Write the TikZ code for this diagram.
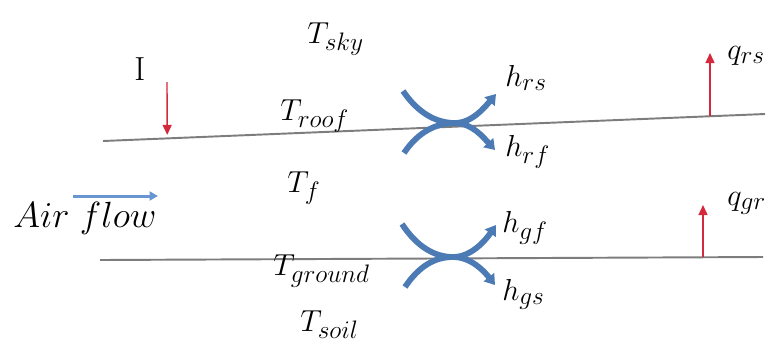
\documentclass[tikz,border=0pt]{standalone}
\usetikzlibrary{arrows.meta,calc}

\definecolor{heatred}{RGB}{214,40,60}
\definecolor{flowblue}{RGB}{104,150,208}
\definecolor{convblue}{RGB}{76,122,180}
\definecolor{surfgray}{RGB}{125,125,125}

\begin{document}
\begin{tikzpicture}[x=0.02cm, y=-0.02cm,
  lbl/.style={anchor=base west, inner sep=0pt, font=\fontsize{19}{23}\selectfont},
  surf/.style={surfgray, line width=1.1pt},
  flux/.style={heatred, line width=0.8pt, -{Triangle[length=2mm,width=1.8mm]}},
  conv/.style={convblue, line width=3.3pt, -{Triangle[length=2mm,width=2.6mm]}},
  airarrow/.style={flowblue, line width=1.7pt, -{Triangle[length=1.7mm,width=1.8mm]}}]
  \useasboundingbox[fill=white] (0,0) rectangle (777,343);
  \clip (0,0) rectangle (777,343);

  % surfaces
  \coordinate (roofL) at (103,141);
  \coordinate (roofR) at (765,114);
  \coordinate (grndL) at (100,260);
  \coordinate (grndR) at (763,257);
  \draw[surf] (roofL) -- (roofR);
  \draw[surf] (grndL) -- (grndR);

  % temperatures
  \node[lbl] (sky)    at (307,43)  {$T_{sky}$};
  \node[lbl] (roof)   at (280,120) {$T_{roof}$};
  \node[lbl] (fluid)  at (287,192) {$T_f$};
  \node[lbl] (ground) at (273,275) {$T_{ground}$};
  \node[lbl] (soil)   at (300,331) {$T_{soil}$};

  % solar radiation
  \node[lbl] (sun) at (134,80) {I};
  \coordinate (sunA) at (167,82);
  \coordinate (sunB) at ($(roofL)!0.097!(roofR)$);
  \draw[flux, shorten >=2pt] (sunA) -- (sunB);

  % air flow
  \node[lbl, font=\fontsize{20}{24}\selectfont] (air) at (13,227) {$Air\ flow$};
  \coordinate (airA) at (73,196);
  \coordinate (airB) at (158,196);
  \draw[airarrow] (airA) -- (airB);

  % convection at roof
  \coordinate (rX)  at (455,123);
  \coordinate (rsA) at (403,91);
  \coordinate (rsB) at (496,94);
  \coordinate (rfA) at (404,153);
  \coordinate (rfB) at (495,150);
  \draw[conv] (rsA) .. controls (418,113) and (436,123) .. (rX)
                    .. controls (472,123) and (485,107) .. (rsB);
  \draw[conv] (rfA) .. controls (418,132) and (436,123) .. (rX)
                    .. controls (472,123) and (484,138) .. (rfB);
  \node[lbl] (hrs) at (505,86)  {$h_{rs}$};
  \node[lbl] (hrf) at (505,156) {$h_{rf}$};

  % convection at ground
  \coordinate (gX)  at (453,257);
  \coordinate (gfA) at (402,224);
  \coordinate (gfB) at (496,225);
  \coordinate (gsA) at (405,287);
  \coordinate (gsB) at (495,285);
  \draw[conv] (gfA) .. controls (417,247) and (435,257) .. (gX)
                    .. controls (471,257) and (485,241) .. (gfB);
  \draw[conv] (gsA) .. controls (419,266) and (435,257) .. (gX)
                    .. controls (471,257) and (484,271) .. (gsB);
  \node[lbl] (hgf) at (502,232) {$h_{gf}$};
  \node[lbl] (hgs) at (502,300) {$h_{gs}$};

  % heat flux out
  \coordinate (qrsA) at (710,116);
  \coordinate (qrsB) at (710,53);
  \coordinate (qgrA) at (703,257);
  \coordinate (qgrB) at (703,205);
  \draw[flux] (qrsA) -- (qrsB);
  \draw[flux] (qgrA) -- (qgrB);
  \node[lbl] (qrs) at (727,59)  {$q_{rs}$};
  \node[lbl] (qgr) at (727,205) {$q_{gr}$};
\end{tikzpicture}
\end{document}
